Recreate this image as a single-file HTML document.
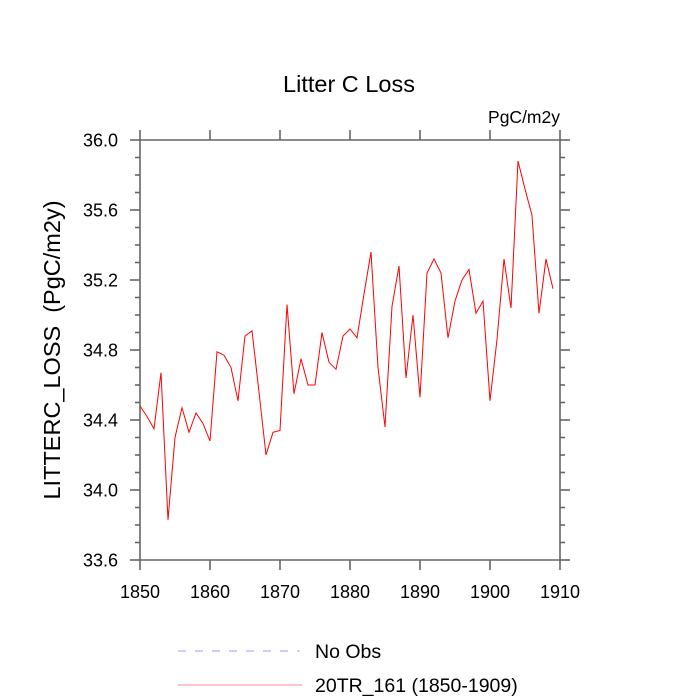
<!DOCTYPE html>
<html><head><meta charset="utf-8"><style>
html,body{margin:0;padding:0;background:#fff;}
svg{display:block;font-family:"Liberation Sans",sans-serif;}
</style></head><body>
<svg id="chart" width="700" height="700" viewBox="0 0 700 700">
<text x="349" y="92" font-size="23.5" text-anchor="middle">Litter C Loss</text>
<text x="560" y="123" font-size="17.5" text-anchor="end">PgC/m2y</text>
<text transform="translate(60,350) rotate(-90)" font-size="23.5" text-anchor="middle" xml:space="preserve" style="white-space:pre">LITTERC_LOSS  (PgC/m2y)</text>
<g id="axes"></g>
<g id="series"></g>
<g>
<line x1="178" y1="651" x2="300" y2="651" stroke="#9999ff" stroke-width="1" stroke-dasharray="8,9"/>
<text x="315" y="658" font-size="19.5">No Obs</text>
<line x1="178" y1="685" x2="302" y2="685" stroke="#ff8888" stroke-width="1"/>
<text x="315" y="692" font-size="19.5">20TR_161 (1850-1909)</text>
</g>
</svg>
<script>
const years = [];
for (let y = 1850; y <= 1909; y++) years.push(y);
const values = [34.48,34.42,34.35,34.67,33.83,34.30,34.47,34.33,34.44,34.38,
34.28,34.79,34.77,34.70,34.51,34.88,34.91,34.56,34.20,34.33,
34.34,35.06,34.55,34.75,34.60,34.60,34.90,34.73,34.69,34.88,
34.92,34.87,35.12,35.36,34.70,34.36,35.05,35.28,34.64,35.00,
34.53,35.24,35.32,35.24,34.87,35.08,35.20,35.26,35.01,35.08,
34.51,34.86,35.32,35.04,35.88,35.72,35.57,35.01,35.32,35.15];
const xTicks = [1850,1860,1870,1880,1890,1900,1910];
const yTicks = [33.6,34.0,34.4,34.8,35.2,35.6,36.0];

const NS = "http://www.w3.org/2000/svg";
const L = 140, R = 560, T = 140, B = 560;
const sx = v => L + (v - 1850) * (R - L) / 60;
const sy = v => B - (v - 33.6) * (B - T) / 2.4;
const axes = document.getElementById('axes');
function ln(x1,y1,x2,y2,name){
  const e = document.createElementNS(NS,'line');
  e.setAttribute('x1',x1);e.setAttribute('y1',y1);e.setAttribute('x2',x2);e.setAttribute('y2',y2);
  e.setAttribute('stroke','#666');e.setAttribute('stroke-width','1.6');
  
  
  axes.appendChild(e);
}
ln(L,T,L,B,'y-axis-left');ln(R,T,R,B,'y-axis-right');
ln(L,T,R,T,'x-axis-top');ln(L,B,R,B,'x-axis-bottom');
xTicks.forEach(t => {
  const x = sx(t);
  ln(x,B,x,B+10,'x-tick');ln(x,T,x,T-10,'x-tick-top');
  const tx = document.createElementNS(NS,'text');
  tx.setAttribute('x',x);tx.setAttribute('y',B+38);tx.setAttribute('font-size','18');tx.setAttribute('text-anchor','middle');
  tx.textContent = t;
  
  
  axes.appendChild(tx);
});
for (let v = 33.6; v <= 36.001; v += 0.1) {
  const y = sy(v);
  const len = (Math.round(v*10) - 336) % 4 === 0 ? 10 : 5;
  ln(L-len,y,L,y,'y-tick');ln(R,y,R+len,y,'y-tick-right');
}
yTicks.forEach(t => {
  const tx = document.createElementNS(NS,'text');
  tx.setAttribute('x',L-22);tx.setAttribute('y',sy(t)+6.5);tx.setAttribute('font-size','18');tx.setAttribute('text-anchor','end');
  tx.textContent = t.toFixed(1);
  
  
  axes.appendChild(tx);
});
const p = document.createElementNS(NS,'polyline');
p.setAttribute('points', years.map((y,i) => sx(y).toFixed(1)+','+sy(values[i]).toFixed(1)).join(' '));
p.setAttribute('fill','none');p.setAttribute('stroke','#ff0000');p.setAttribute('stroke-width','1');


document.getElementById('series').appendChild(p);
</script>
</body></html>
